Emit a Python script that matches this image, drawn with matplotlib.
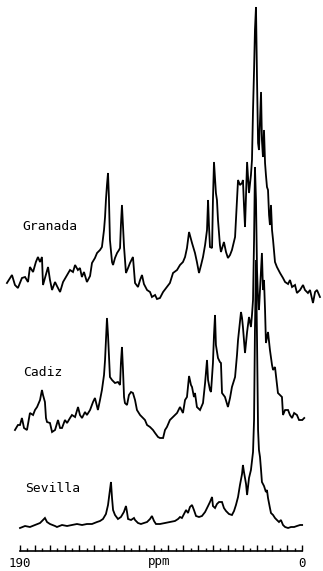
import matplotlib.pyplot as plt
import numpy as np

# 13C CP/MAS spectra of three soil samples, chemical shift in ppm
granada_ppm = [198.8, 196.7, 195.4, 193.4, 191.4, 188.7, 186.6, 184.6, 183.3, 181.2,
               179.3, 177.9, 176.5, 175.2, 174.5, 173.2, 171.1, 169.8, 168.4, 166.4,
               165.1, 163.0, 161.0, 158.3, 156.3, 154.3, 152.9, 151.0, 149.6, 148.3,
               146.9, 144.9, 142.8, 141.5, 139.5, 138.1, 136.1, 134.8, 133.4, 132.7,
               132.1, 131.4, 130.7, 130.1, 129.4, 128.0, 127.3, 126.0, 124.6, 123.3,
               122.6, 122.0, 121.3, 120.6, 119.9, 118.6, 117.2, 115.9, 113.9, 112.5,
               110.5, 109.1, 107.8, 106.5, 104.4, 102.4, 101.1, 99.0, 97.7, 95.7,
               93.6, 91.0, 89.0, 86.9, 84.2, 82.2, 80.2, 78.8, 77.5, 76.1,
               74.1, 72.1, 70.8, 69.4, 68.0, 66.7, 65.3, 64.0, 63.3, 62.7,
               62.0, 60.6, 60.0, 59.3, 58.0, 57.3, 56.6, 55.3, 54.6, 52.6,
               51.2, 49.9, 48.5, 47.2, 45.1, 43.8, 43.1, 41.8, 40.4, 39.8,
               39.1, 38.4, 37.0, 35.7, 34.4, 33.7, 33.0, 32.3, 31.7, 31.0,
               30.3, 29.6, 29.0, 28.3, 27.6, 27.0, 26.3, 25.6, 24.9, 24.3,
               23.6, 22.9, 22.2, 21.6, 20.9, 20.2, 19.5, 18.2, 16.9, 14.8,
               12.8, 11.4, 9.4, 8.1, 6.7, 4.7, 3.4, 1.3, -0.7, -2.0,
               -4.0, -5.4, -7.4, -8.8, -10.1, -12.1]
granada_int = [17, 22, 25, 15, 12, 22, 23, 18, 33, 28,
               38, 43, 38, 43, 15, 22, 33, 20, 10, 18,
               14, 8, 18, 25, 30, 28, 35, 30, 32, 23,
               28, 18, 24, 37, 42, 47, 50, 53, 70, 83,
               100, 115, 127, 103, 60, 38, 35, 42, 47, 50,
               52, 75, 95, 75, 53, 27, 32, 37, 43, 17,
               13, 20, 25, 16, 10, 8, 3, 5, 1, 2,
               8, 13, 17, 27, 30, 35, 38, 43, 52, 68,
               57, 47, 38, 27, 35, 43, 55, 70, 100, 75,
               53, 52, 100, 138, 107, 100, 80, 55, 48, 58,
               48, 42, 45, 50, 63, 100, 120, 115, 117, 120,
               95, 73, 138, 107, 125, 140, 190, 230, 270, 293,
               220, 157, 150, 180, 208, 160, 143, 170, 137, 125,
               113, 110, 85, 75, 95, 70, 60, 38, 33, 27,
               22, 18, 16, 20, 13, 15, 7, 10, 15, 10,
               7, 10, -3, 8, 10, 3]

cadiz_ppm = [193.4, 191.4, 190.0, 188.7, 187.3, 185.3, 183.3, 181.2, 179.9, 178.5,
             176.5, 175.2, 174.5, 173.2, 172.5, 171.8, 169.8, 168.4, 166.4, 164.4,
             163.0, 161.7, 159.7, 158.3, 156.3, 155.0, 152.9, 150.9, 149.6, 148.2,
             146.2, 144.9, 142.8, 140.8, 139.5, 137.5, 136.1, 134.8, 133.4, 132.7,
             132.1, 131.4, 130.7, 130.1, 129.4, 128.0, 126.0, 124.0, 122.6, 122.0,
             121.3, 120.6, 119.9, 119.3, 117.9, 116.6, 115.2, 113.9, 112.5, 111.2,
             109.1, 107.8, 105.8, 104.4, 102.4, 100.4, 99.0, 97.0, 95.7, 93.6,
             92.3, 91.0, 89.0, 87.6, 85.6, 84.2, 82.2, 80.2, 78.8, 77.5,
             76.1, 74.8, 74.1, 72.8, 72.1, 70.8, 68.7, 66.7, 65.3, 64.0,
             63.3, 62.0, 61.3, 60.0, 59.3, 58.6, 58.0, 56.6, 55.3, 54.6,
             53.9, 51.9, 49.9, 48.5, 47.2, 45.1, 43.8, 43.1, 41.8, 41.1,
             40.4, 39.8, 38.4, 37.7, 37.0, 35.7, 34.4, 33.7, 33.0, 32.3,
             31.7, 31.0, 30.3, 29.6, 29.0, 28.3, 27.6, 27.0, 26.3, 25.6,
             24.9, 24.3, 22.9, 21.6, 20.2, 19.5, 18.2, 16.2, 14.8, 13.5,
             12.8, 11.4, 9.4, 8.1, 6.7, 5.3, 3.4, 2.0, -0.2, -1.5]
cadiz_int = [10, 15, 15, 22, 12, 10, 27, 25, 30, 33,
             40, 50, 45, 38, 22, 18, 17, 8, 10, 20,
             12, 12, 20, 17, 22, 25, 23, 33, 25, 22,
             28, 25, 30, 38, 42, 30, 40, 50, 65, 80,
             100, 122, 105, 85, 63, 60, 57, 58, 55, 77,
             93, 70, 43, 37, 35, 45, 48, 47, 40, 30,
             25, 23, 20, 15, 13, 10, 7, 3, 2, 2,
             10, 13, 20, 22, 25, 27, 33, 27, 40, 43,
             64, 55, 53, 43, 47, 33, 30, 37, 57, 80,
             60, 50, 48, 77, 105, 125, 95, 82, 78, 77,
             47, 43, 33, 42, 53, 63, 85, 100, 118, 128,
             122, 113, 87, 98, 108, 123, 113, 125, 140, 200,
             273, 240, 170, 140, 130, 150, 170, 187, 150, 160,
             130, 97, 108, 90, 75, 70, 73, 47, 45, 43,
             25, 30, 30, 25, 22, 27, 25, 20, 20, 22]

sevilla_ppm = [190.0, 186.6, 183.3, 179.9, 176.5, 174.5, 173.2, 171.8, 169.8, 166.4,
               165.1, 161.7, 158.3, 155.0, 151.6, 148.2, 144.9, 141.5, 138.1, 136.1,
               134.1, 132.1, 130.7, 129.4, 128.7, 128.0, 127.3, 126.0, 124.0, 122.0,
               120.0, 118.6, 117.9, 117.2, 115.2, 113.2, 112.5, 110.5, 108.5, 106.5,
               104.4, 102.4, 101.1, 99.7, 98.4, 95.7, 92.3, 89.0, 85.6, 83.5,
               82.2, 80.9, 79.5, 78.1, 76.8, 75.5, 74.1, 72.8, 71.4, 69.4,
               67.4, 65.3, 63.3, 62.0, 60.6, 60.0, 58.6, 57.3, 55.9, 53.9,
               52.6, 51.2, 49.2, 47.2, 45.8, 44.5, 43.1, 41.8, 40.4, 39.8,
               39.1, 37.7, 37.0, 35.7, 34.4, 33.0, 32.3, 31.7, 31.0, 30.3,
               29.6, 29.0, 28.3, 27.6, 27.0, 25.6, 24.3, 23.6, 22.9, 21.6,
               20.9, 19.5, 18.2, 16.9, 15.5, 14.2, 12.8, 11.4, 9.4, 7.4,
               5.3, 3.4, 1.3, -0.1]
sevilla_int = [2, 4, 3, 5, 7, 10, 12, 8, 6, 4,
               3, 5, 4, 5, 6, 5, 6, 6, 8, 9,
               11, 16, 25, 40, 48, 32, 20, 15, 11, 13,
               18, 24, 18, 11, 10, 12, 10, 7, 6, 7,
               8, 11, 14, 9, 6, 6, 7, 8, 9, 11,
               13, 12, 16, 20, 17, 23, 25, 20, 14, 13,
               14, 18, 24, 28, 33, 24, 22, 26, 28, 28,
               22, 19, 16, 15, 19, 25, 33, 45, 56, 65,
               58, 46, 35, 52, 60, 78, 110, 200, 270, 190,
               100, 80, 73, 60, 48, 44, 38, 40, 32, 22,
               17, 15, 12, 10, 8, 10, 5, 3, 2, 3,
               3, 4, 5, 5]

# vertical offsets of the stacked spectra
granada_offset = 271
cadiz_offset = 131
sevilla_offset = 41

fig = plt.figure(figsize=(3.23, 5.71), dpi=100)
ax = fig.add_axes([0, 0, 1, 1])

for ppm, inten, off in [(granada_ppm, granada_int, granada_offset),
                        (cadiz_ppm, cadiz_int, cadiz_offset),
                        (sevilla_ppm, sevilla_int, sevilla_offset)]:
    ax.plot(ppm, np.array(inten) + off, color='black', lw=1.3, solid_joinstyle='miter')

label_font = dict(family='DejaVu Sans Mono', fontsize=9.4, va='center', ha='left')
ax.text(188.7, 344, 'Granada', **label_font)
ax.text(188.0, 199, 'Cadiz', **label_font)
ax.text(186.6, 82, 'Sevilla', **label_font)

# ppm scale with 190 on the left
ax.set_xlim(203.475, -14.149)
ax.set_ylim(0, 571)
for side in ['top', 'left', 'right']:
    ax.spines[side].set_visible(False)
ax.spines['bottom'].set_position(('data', 20))
ax.spines['bottom'].set_bounds(0, 190)
ax.spines['bottom'].set_linewidth(1.2)
ax.set_yticks([])
ax.set_xticks(np.arange(0, 191, 10))
ax.set_xticklabels(['0'] + [''] * 18 + ['190'])
ax.set_xticks(np.arange(5, 190, 10), minor=True)
ax.tick_params(axis='x', which='major', direction='in', length=4, width=1, pad=4.5,
               labelsize=9, labelfontfamily='DejaVu Sans Mono')
ax.tick_params(axis='x', which='minor', direction='in', length=2, width=1)
ax.text(96, 10, 'ppm', family='DejaVu Sans Mono', fontsize=9, ha='center', va='center')

fig.savefig('out.png', dpi=100)
